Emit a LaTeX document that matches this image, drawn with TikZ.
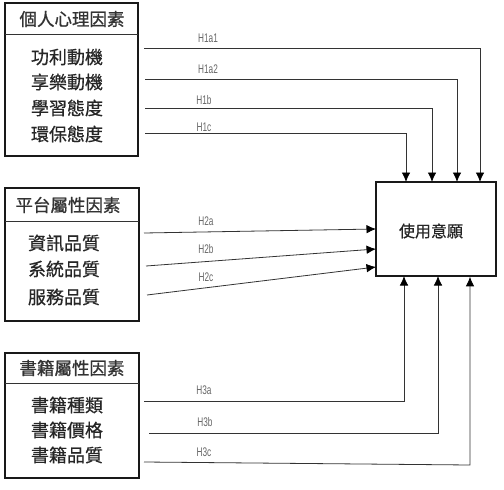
\documentclass[tikz,border=0pt]{standalone}
\usepackage{fontspec}
\setmainfont{Liberation Sans}
\newfontfamily\cjk[FakeBold=0.6]{Noto Sans CJK TC}
\newfontfamily\cjkh[FakeBold=0.9]{Noto Sans CJK TC}
\usetikzlibrary{arrows.meta,calc}
\newcommand{\hl}[1]{\scalebox{0.66}[1]{#1}}
\begin{document}
\begin{tikzpicture}[x=1pt,y=-1pt,
  outerbox/.style={draw=black!90,line width=1.6pt,inner sep=0pt},
  divider/.style={draw=black!80,line width=0.9pt},
  headtxt/.style={font=\cjkh\fontsize{17.5}{17.5}\selectfont,inner sep=0pt,text=black!80},
  itemtxt/.style={font=\cjk\fontsize{18}{18}\selectfont,inner sep=0pt,text=black!85},
  tgttxt/.style={font=\cjk\fontsize{16}{16}\selectfont,inner sep=0pt,text=black!85},
  hlab/.style={font=\fontsize{12.5}{12.5}\selectfont,text=black!60,inner sep=0pt},
  conn/.style={draw=black!80,line width=0.8pt},
  arr/.style={conn,-{Latex[length=9.5pt,width=8.5pt,fill=black,color=black]}}]
\useasboundingbox (0,0) rectangle (504,490);
% boxes
\node[outerbox,minimum width=133,minimum height=153] (b1) at (71.5,79.5) {};
\draw[divider] (5,34) -- (138,34);
\node[headtxt] (b1h) at (72,19) {個人心理因素};
\node[itemtxt] (i11) at (67,57) {功利動機};
\node[itemtxt] (i12) at (67,82) {享樂動機};
\node[itemtxt] (i13) at (67,108) {學習態度};
\node[itemtxt] (i14) at (67,134) {環保態度};

\node[outerbox,minimum width=134,minimum height=133] (b2) at (72,254.5) {};
\draw[divider] (5,221) -- (139,221);
\node[headtxt] (b2h) at (68,205) {平台屬性因素};
\node[itemtxt] (i21) at (64,243) {資訊品質};
\node[itemtxt] (i22) at (64,269) {系統品質};
\node[itemtxt] (i23) at (64,297) {服務品質};

\node[outerbox,minimum width=134,minimum height=125] (b3) at (72,415.5) {};
\draw[divider] (5,383) -- (139,383);
\node[headtxt] (b3h) at (72,368) {書籍屬性因素};
\node[itemtxt] (i31) at (67,405) {書籍種類};
\node[itemtxt] (i32) at (67,430) {書籍價格};
\node[itemtxt] (i33) at (67,455) {書籍品質};

\node[outerbox,minimum width=120,minimum height=94] (t) at (436,229) {};
\node[tgttxt] (tt) at (431,231) {使用意願};

% start coordinates
\coordinate (s11) at (144,48);
\coordinate (s12) at (145,79);
\coordinate (s13) at (145,108);
\coordinate (s14) at (145,133);
\coordinate (s21) at (144,233);
\coordinate (s22) at (146,266);
\coordinate (s23) at (147,295);
\coordinate (s31) at (144,401);
\coordinate (s32) at (149,433);
\coordinate (s33) at (144,462);
\coordinate (e33) at (470,465);

% connectors
\draw[arr] (s11) -- (480,48) -- (480,182);
\draw[arr] (s12) -- (457,79) -- (457,182);
\draw[arr] (s13) -- (432,108) -- (432,182);
\draw[arr] (s14) -- (406,133) -- (406,182);
\draw[arr] (s21) -- (376,229);
\draw[arr] (s22) -- (376,249);
\draw[arr] (s23) -- (376,267);
\draw[arr] (s31) -- (404,401) -- (404,276);
\draw[arr] (s32) -- (438,433) -- (438,276);
\draw[arr] (s33) -- (e33) -- (e33 |- t.south);

% labels
\node[hlab] at (208,38.5) {\hl{H1a1}};
\node[hlab] at (208,69.5) {\hl{H1a2}};
\node[hlab] at (204,100.5) {\hl{H1b}};
\node[hlab] at (204,127) {\hl{H1c}};
\node[hlab] at (206,221.5) {\hl{H2a}};
\node[hlab] at (206,249.5) {\hl{H2b}};
\node[hlab] at (206,277) {\hl{H2c}};
\node[hlab] at (204,390.5) {\hl{H3a}};
\node[hlab] at (205,422.5) {\hl{H3b}};
\node[hlab] at (204,452.5) {\hl{H3c}};
\end{tikzpicture}
\end{document}
